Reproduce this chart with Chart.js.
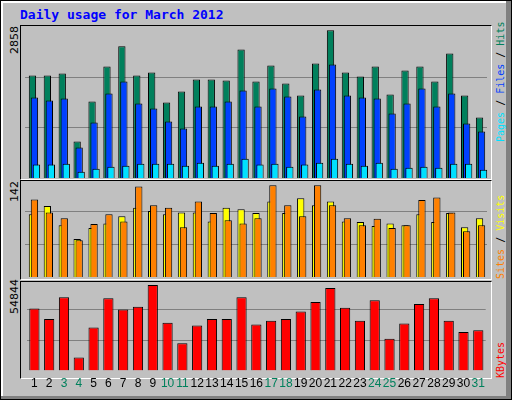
<!DOCTYPE html>
<html>
<head>
<meta charset="utf-8">
<script src="https://cdn.jsdelivr.net/npm/chart.js@4/dist/chart.umd.min.js"></script>
<style>
  body { margin: 0; background: #fff; }
  #img { position: relative; width: 510px; height: 398px; background: #c0c0c0;
         border: 1px solid #000; overflow: hidden; font-family: "DejaVu Sans Mono", monospace; }
  #img .hl { position: absolute; left: 0; top: 0; width: 503px; height: 393px;
             border-left: 2px solid #fff; border-top: 2px solid #fff; }
  #img .shR { position: absolute; left: 505px; top: 0; width: 5px; height: 398px; background: #808080; }
  #img .shB { position: absolute; left: 0; top: 395px; width: 510px; height: 3px; background: #808080; }
  .title { position: absolute; left: 19px; top: 6px; color: #0000ff; font-weight: bold; font-size: 13px; }
  .panel { position: absolute; left: 19px; width: 470px; border-left: 1px solid #000; border-top: 1px solid #000;
           border-right: 1px solid #fff; border-bottom: 1px solid #fff; }
  canvas { position: absolute; }
  .vl { position: absolute; transform-origin: 0 0; transform: rotate(-90deg); white-space: nowrap; font-size: 10px; }
</style>
</head>
<body>
<div id="img">
  <div class="hl"></div><div class="shR"></div><div class="shB"></div>
  <div class="title">Daily usage for March 2012</div>
  <div class="panel" style="top:24px;height:153px"></div>
  <div class="panel" style="top:179px;height:98px"></div>
  <div class="panel" style="top:280px;height:96px"></div>
  <div class="vl" style="left:7px;top:53px;font-family:'DejaVu Sans';font-size:11px">2858</div>
  <div class="vl" style="left:7px;top:201px;font-family:'DejaVu Sans';font-size:11px">142</div>
  <div class="vl" style="left:7px;top:313px;font-family:'DejaVu Sans';font-size:11px">54844</div>
  <div class="vl" style="left:494px;top:141px"><span style="color:#00e0ff">Pages</span> / <span style="color:#0040ff">Files</span> / <span style="color:#00805c">Hits</span></div>
  <div class="vl" style="left:494px;top:278px"><span style="color:#ff8000">Sites</span> / <span style="color:#ffff00">Visits</span></div>
  <div class="vl" style="left:494px;top:377px"><span style="color:#ff0000">KBytes</span></div>
  <canvas id="c1" style="left:21.5px;top:25px"></canvas>
  <canvas id="c1b" style="left:23.8px;top:25px"></canvas>
  <canvas id="c1c" style="left:25.8px;top:25px"></canvas>
  <canvas id="c2" style="left:21.5px;top:180px"></canvas>
  <canvas id="c2b" style="left:23.8px;top:180px"></canvas>
  <canvas id="c3" style="left:23.5px;top:281px"></canvas>
</div>
<script>
const days = Array.from({ length: 31 }, (_, i) => String(i + 1));
const weekendDays = [3, 4, 10, 11, 17, 18, 24, 25, 31];

const hits = [1985, 1985, 2024, 705, 1481, 2160, 2548, 1985, 2043, 1461, 1675, 1907, 1907, 1888, 2489, 1869,
  2179, 1830, 1597, 2218, 2858, 2043, 1966, 2160, 1617, 2082, 2160, 1869, 2412, 1597, 1170];
const files = [1558, 1500, 1539, 588, 1073, 1636, 1869, 1442, 1345, 1093, 957, 1384, 1384, 1481, 1694, 1384,
  1733, 1578, 1190, 1713, 2198, 1597, 1558, 1539, 1248, 1442, 1733, 1384, 1636, 1054, 899];
const pages = [259, 259, 278, 123, 181, 220, 239, 278, 278, 278, 239, 297, 239, 278, 375, 259,
  278, 220, 259, 297, 375, 278, 239, 297, 181, 200, 220, 200, 278, 278, 162];
const visits = [97, 110, 80, 59, 76, 83, 94, 107, 102, 97, 100, 100, 86, 107, 105, 99,
  117, 99, 122, 111, 117, 86, 85, 79, 83, 80, 97, 85, 99, 77, 91];
const sites = [120, 100, 91, 57, 82, 97, 86, 140, 111, 107, 77, 117, 99, 88, 83, 91,
  142, 111, 94, 142, 111, 91, 80, 90, 76, 80, 119, 123, 100, 71, 80];
const kbytes = [39778, 33149, 47011, 8438, 27724, 46408, 39176, 40984, 54844, 30738, 17478, 28930, 33149, 33149, 47011, 29532,
  31943, 33149, 37970, 43997, 53038, 40381, 31943, 45203, 20492, 30135, 42792, 46408, 31943, 24711, 25916];

// 격자선 (1/3, 2/3 지점)
const gridPlugin = {
  id: 'thirds',
  beforeDatasetsDraw(chart, args, opts) {
    if (!opts.lines) return;
    const { ctx, chartArea, scales } = chart;
    ctx.save();
    ctx.strokeStyle = '#808080';
    ctx.lineWidth = 1;
    opts.lines.forEach(v => {
      const y = Math.round(scales.y.getPixelForValue(v)) + 0.5;
      ctx.beginPath();
      ctx.moveTo(chartArea.left, y);
      ctx.lineTo(chartArea.right, y);
      ctx.stroke();
    });
    ctx.restore();
  }
};

// 데이터셋마다 캔버스 하나씩, 살짝 옆으로 밀어서 겹치게
function panel(id, h, data, color, cp, max, lines, showX) {
  const c = document.getElementById(id);
  c.width = 466; c.height = h;
  new Chart(c, {
    type: 'bar',
    data: { labels: days, datasets: [{
      data, backgroundColor: color, borderColor: '#000', borderWidth: 1,
      barPercentage: 1, categoryPercentage: cp, borderSkipped: 'bottom'
    }] },
    options: {
      responsive: false, animation: false, maintainAspectRatio: false,
      layout: { padding: { left: 2, right: 2 } },
      plugins: { legend: { display: false }, tooltip: { enabled: false }, thirds: { lines } },
      scales: {
        y: { display: false, min: 0, max },
        x: {
          display: showX,
          grid: { display: false, drawTicks: false },
          border: { display: false },
          ticks: {
            padding: 6, maxRotation: 0, autoSkip: false,
            font: { family: 'Liberation Sans', size: 12 },
            color: ctx => weekendDays.includes(ctx.index + 1) ? '#00805c' : '#000'
          }
        }
      }
    },
    plugins: [gridPlugin]
  });
}

panel('c1', 152, hits, '#00805c', 0.49, 2942, [981, 1961], false);
panel('c1b', 152, files, '#0040ff', 0.49, 2942, null, false);
panel('c1c', 152, pages, '#00e0ff', 0.49, 2942, null, false);
panel('c2', 96, visits, '#ffff00', 0.49, 148.6, [50.9, 101.8], false);
panel('c2b', 96, sites, '#ff8000', 0.49, 148.6, null, false);
panel('c3', 115, kbytes, '#ff0000', 0.69, 56834, [19888, 39776], true);
</script>
</body>
</html>
